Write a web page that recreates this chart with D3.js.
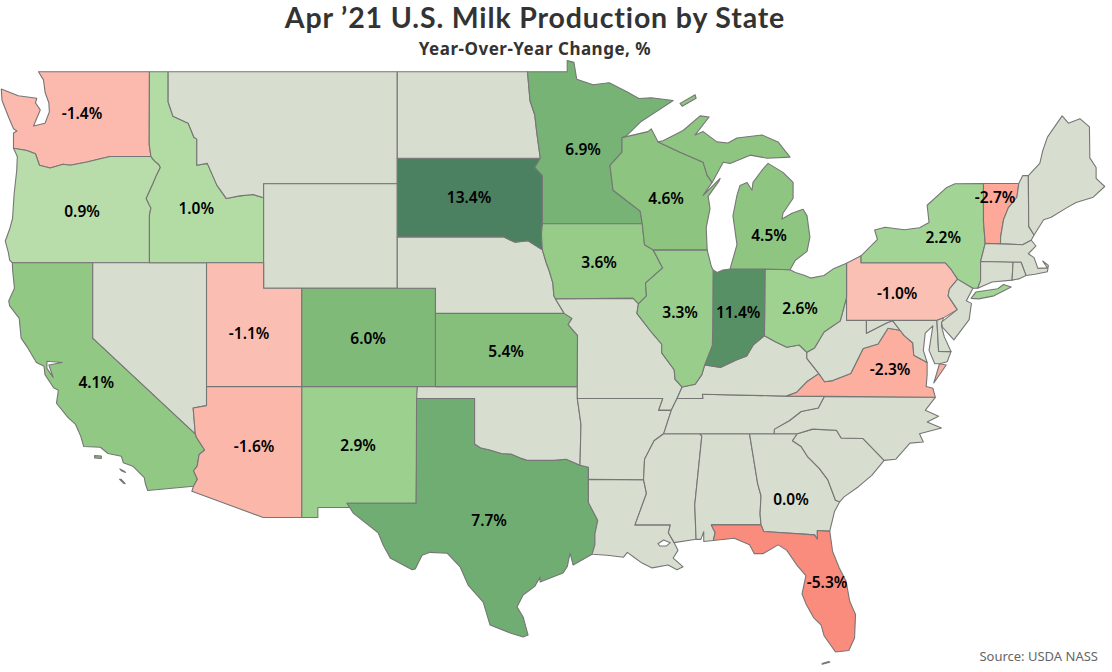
<!DOCTYPE html>
<html>
<head>
<meta charset="utf-8">
<script src="https://cdn.jsdelivr.net/npm/d3@7"></script>
<style>
  html, body { margin: 0; padding: 0; background: #fff; }
  svg { display: block; }
  text { font-family: "Noto Sans", sans-serif; }
</style>
</head>
<body>
<svg id="chart" width="1112" height="672"></svg>
<script>
// state outlines, [lon, lat] rings
const WA = [[[-122.84,49],[-117.03,49],[-117.04,46.42],[-116.95,46],[-119.09,46],[-119.6,45.92],[-120.3,45.8],[-121.18,45.68],[-121.55,45.72],[-122.23,45.58],[-122.79,45.68],[-123,46.1],[-123.45,46.22],[-124.15,46.3],[-124.15,46.85],[-123.97,46.92],[-124.15,47],[-124.4,47.4],[-124.75,48],[-124.79,48.4],[-123.9,48.17],[-122.93,48.08],[-123,47.92],[-122.75,47.67],[-123.1,47.1],[-122.5,47.2],[-122.27,47.6],[-122.3,47.92],[-122.49,48.27],[-122.58,48.72]]];
const OR = [[[-124.15,46.3],[-123.45,46.22],[-123,46.1],[-122.79,45.68],[-122.23,45.58],[-121.55,45.72],[-121.18,45.68],[-120.3,45.8],[-119.6,45.92],[-119.09,46],[-116.95,46],[-116.78,45.85],[-116.53,45.7],[-116.46,45.6],[-116.67,45.3],[-116.85,45],[-117.2,44.45],[-117.05,44.23],[-116.95,44.1],[-117.03,43.83],[-117.03,42],[-124.21,42],[-124.35,42.1],[-124.42,42.4],[-124.58,42.84],[-124.35,43.3],[-124.2,43.7],[-124.12,44.6],[-123.98,45.5],[-123.95,46]]];
const CA = [[[-124.21,42],[-120,42],[-120,39],[-114.63,35],[-114.57,34.85],[-114.14,34.3],[-114.43,34.1],[-114.53,33.6],[-114.72,33.4],[-114.52,33.03],[-114.72,32.72],[-117.12,32.53],[-117.25,32.85],[-117.3,33.1],[-117.9,33.6],[-118.4,33.75],[-118.5,34.03],[-119.2,34.15],[-119.6,34.42],[-120.47,34.45],[-120.63,34.9],[-120.9,35.4],[-121.3,35.7],[-121.9,36.3],[-121.8,36.85],[-122.05,36.95],[-122.5,37.5],[-122.55,37.85],[-122.95,38],[-123.4,38.6],[-123.75,39],[-123.85,39.8],[-124.35,40.3],[-124.4,40.5],[-124.1,41],[-124.2,41.75]],[[-122.4,38.05],[-121.6,38],[-122.3,37.9],[-122.07,37.38],[-122.4,37.76]],[[-119.9,34.06],[-119.55,34.04],[-119.55,33.94],[-119.9,33.96]],[[-118.58,33.48],[-118.35,33.38],[-118.28,33.32],[-118.5,33.4]],[[-118.6,33.03],[-118.38,32.85],[-118.3,32.83],[-118.52,33.03]]];
const NV = [[[-120,42],[-114.04,42],[-114.04,36.2],[-114.74,36.1],[-114.63,35],[-120,39]]];
const ID = [[[-117.03,49],[-116.05,49],[-116.05,47.95],[-115.8,47.45],[-115,47.2],[-114.7,46.7],[-114.55,46.63],[-114.55,45.68],[-114,45.75],[-113.5,44.95],[-113,44.45],[-112.3,44.55],[-111.6,44.6],[-111.05,44.48],[-111.05,42],[-117.03,42],[-117.03,43.83],[-116.95,44.1],[-117.05,44.23],[-117.2,44.45],[-116.85,45],[-116.67,45.3],[-116.46,45.6],[-116.53,45.7],[-116.78,45.85],[-116.95,46],[-117.04,46.42]]];
const MT = [[[-116.05,49],[-104.05,49],[-104.05,45],[-111.05,45],[-111.05,44.48],[-111.6,44.6],[-112.3,44.55],[-113,44.45],[-113.5,44.95],[-114,45.75],[-114.55,45.68],[-114.55,46.63],[-114.7,46.7],[-115,47.2],[-115.8,47.45],[-116.05,47.95]]];
const WY = [[[-111.05,45],[-104.05,45],[-104.05,41],[-111.05,41]]];
const UT = [[[-114.04,42],[-111.05,42],[-111.05,41],[-109.05,41],[-109.05,37],[-114.04,37]]];
const CO = [[[-109.05,41],[-102.05,41],[-102.05,37],[-109.05,37]]];
const AZ = [[[-114.04,37],[-109.05,37],[-109.05,31.33],[-111.07,31.33],[-114.81,32.5],[-114.72,32.72],[-114.52,33.03],[-114.72,33.4],[-114.53,33.6],[-114.43,34.1],[-114.14,34.3],[-114.57,34.85],[-114.63,35],[-114.74,36.1],[-114.04,36.2]]];
const NM = [[[-109.05,37],[-103,37],[-103.06,31.97],[-106.68,31.97],[-106.53,31.78],[-108.21,31.78],[-108.21,31.33],[-109.05,31.33]]];
const TX = [[[-103.04,36.5],[-100,36.5],[-100,34.56],[-99.7,34.4],[-99.2,34.3],[-98.6,34.15],[-98.1,34.13],[-97.6,33.95],[-97.2,33.85],[-96.6,33.85],[-95.9,33.85],[-95.2,33.9],[-94.48,33.64],[-94.04,33.55],[-94.04,33.02],[-94.04,32],[-93.55,31.2],[-93.7,30.6],[-93.7,30.1],[-93.85,29.67],[-94.84,29.18],[-95,29.72],[-95.15,29.1],[-95.37,28.82],[-96.57,28.4],[-96.57,28.63],[-96.85,28.2],[-97.46,27.8],[-97.78,27.25],[-97.46,26.78],[-97.2,25.93],[-97.46,25.84],[-98.14,26.03],[-99.19,26.4],[-99.55,27.47],[-100.34,28.26],[-100.76,29.1],[-101.44,29.72],[-102.33,29.76],[-102.75,29.63],[-103.11,29],[-103.27,28.97],[-104.42,29.5],[-104.79,30.09],[-105.05,30.64],[-106.36,31.53],[-106.68,31.97],[-103.06,31.97]]];
const OK = [[[-103,37],[-94.62,37],[-94.62,36.5],[-94.43,35.4],[-94.48,33.64],[-95.2,33.9],[-95.9,33.85],[-96.6,33.85],[-97.2,33.85],[-97.6,33.95],[-98.1,34.13],[-98.6,34.15],[-99.2,34.3],[-99.7,34.4],[-100,34.56],[-100,36.5],[-103.04,36.5]]];
const KS = [[[-102.05,40],[-95.31,40],[-94.9,39.8],[-95.1,39.55],[-94.61,39.11],[-94.62,37],[-102.05,37]]];
const NE = [[[-104.05,43],[-98.5,43],[-97.9,42.8],[-97.2,42.85],[-96.45,42.5],[-96.25,42],[-96.1,41.7],[-95.9,41.2],[-95.85,40.7],[-95.31,40],[-102.05,40],[-102.05,41],[-104.05,41]]];
const SD = [[[-104.05,45.94],[-96.56,45.94],[-96.85,45.6],[-96.45,45.3],[-96.45,43.5],[-96.5,43.1],[-96.45,42.5],[-97.2,42.85],[-97.9,42.8],[-98.5,43],[-104.05,43]]];
const ND = [[[-104.05,49],[-97.23,49],[-97.1,48],[-96.85,47.5],[-96.75,46.9],[-96.56,45.94],[-104.05,45.94]]];
const MN = [[[-97.23,49],[-95.15,49],[-95.15,49.38],[-94.8,49.32],[-94.65,48.74],[-93.8,48.55],[-92.95,48.62],[-92,48.3],[-91.4,48.07],[-90.75,48.1],[-89.6,48],[-90.5,47.6],[-91.3,47.25],[-92.05,46.75],[-92.28,46.68],[-92.28,46.16],[-92.91,45.68],[-92.75,44.76],[-91.33,43.98],[-91.22,43.5],[-96.45,43.5],[-96.45,45.3],[-96.85,45.6],[-96.56,45.94],[-96.75,46.9],[-96.85,47.5],[-97.1,48]]];
const IA = [[[-96.45,43.5],[-91.22,43.5],[-91.1,42.7],[-90.65,42.5],[-90.15,41.8],[-91.05,41.2],[-91,40.7],[-91.42,40.38],[-91.7,40.6],[-95.77,40.58],[-95.85,40.7],[-95.9,41.2],[-96.1,41.7],[-96.25,42],[-96.45,42.5],[-96.5,43.1]]];
const MO = [[[-95.77,40.58],[-91.7,40.6],[-91.42,40.38],[-91.5,40],[-90.75,39.25],[-90.2,38.75],[-90.2,38.4],[-89.55,37.7],[-89.5,37.3],[-89.13,36.98],[-89.4,36.5],[-89.7,36],[-90.37,36],[-90.15,36.5],[-94.62,36.5],[-94.62,37],[-94.61,39.11],[-95.1,39.55],[-94.9,39.8],[-95.31,40]]];
const AR = [[[-94.62,36.5],[-90.15,36.5],[-90.37,36],[-89.7,36],[-90.1,35],[-90.6,34.7],[-91.1,33.9],[-91.15,33],[-94.04,33.02],[-94.04,33.55],[-94.48,33.64],[-94.43,35.4]]];
const LA = [[[-94.04,33.02],[-91.15,33],[-91,32.4],[-91.6,31],[-89.75,31],[-89.85,30.65],[-89.55,30.2],[-89.35,29.85],[-89.6,29.5],[-89.08,29.1],[-89.4,28.97],[-89.87,29.18],[-90.7,29.05],[-91.23,29.27],[-91.6,29.5],[-92,29.76],[-92.2,29.54],[-93.05,29.63],[-93.85,29.67],[-93.7,30.1],[-93.7,30.6],[-93.55,31.2],[-94.04,32]],[[-90.4,30.15],[-90.1,30.32],[-89.75,30.2],[-89.95,30.05],[-90.3,30.05]]];
const MS = [[[-90.1,35],[-88.2,35],[-88.1,34.9],[-88.47,31.9],[-88.4,30.35],[-89.55,30.2],[-89.85,30.65],[-89.75,31],[-91.6,31],[-91,32.4],[-91.15,33],[-91.1,33.9],[-90.6,34.7]]];
const AL = [[[-88.2,35],[-85.6,35],[-85.18,32.85],[-85,32.3],[-85.05,31.5],[-85,31],[-87.6,31],[-87.4,30.65],[-87.5,30.3],[-88,30.25],[-88,30.7],[-88.15,30.35],[-88.4,30.35],[-88.47,31.9],[-88.1,34.9]]];
const GA = [[[-85.6,35],[-83.1,35],[-83.35,34.7],[-82.9,34.45],[-82.55,34],[-81.95,33.5],[-81.5,33],[-81.1,32.1],[-80.88,32.03],[-81.15,31.6],[-81.4,30.72],[-81.55,30.72],[-82.05,30.75],[-82.05,30.36],[-82.2,30.55],[-84.86,30.7],[-85,31],[-85.05,31.5],[-85,32.3],[-85.18,32.85]]];
const FL = [[[-87.6,31],[-85,31],[-84.86,30.7],[-82.2,30.55],[-82.05,30.36],[-82.05,30.75],[-81.55,30.72],[-81.4,30.72],[-81.25,29.8],[-80.9,29.05],[-80.55,28.45],[-80.35,27.5],[-80.05,26.9],[-80.1,25.8],[-80.4,25.2],[-81.1,25.13],[-81.7,25.9],[-81.85,26.4],[-82.25,26.75],[-82.65,27.4],[-82.85,27.85],[-82.65,28.7],[-83.1,29.15],[-83.65,29.85],[-84.1,30.1],[-84.9,29.7],[-85.35,29.7],[-85.6,30.1],[-86.4,30.4],[-87.5,30.3],[-87.4,30.65]],[[-81.8,24.55],[-81.4,24.65],[-81.45,24.68],[-81.8,24.58]]];
const SC = [[[-83.1,35],[-82.3,35.2],[-81.05,35.15],[-80.8,34.82],[-79.67,34.8],[-78.55,33.85],[-79.2,33.2],[-79.9,32.7],[-80.65,32.25],[-80.88,32.03],[-81.1,32.1],[-81.5,33],[-81.95,33.5],[-82.55,34],[-82.9,34.45],[-83.35,34.7]]];
const NC = [[[-84.32,35],[-83.1,35],[-82.3,35.2],[-81.05,35.15],[-80.8,34.82],[-79.67,34.8],[-78.55,33.85],[-77.95,33.9],[-77.2,34.6],[-76.5,34.65],[-76.7,35],[-75.55,35.25],[-76.3,35.5],[-75.7,35.75],[-76.4,36],[-75.87,36.55],[-81.68,36.59],[-82,36.1],[-82.9,35.95],[-83.5,35.57],[-84.3,35.2]]];
const TN = [[[-90.1,35],[-89.7,36],[-89.4,36.5],[-88.05,36.5],[-88.07,36.68],[-83.67,36.6],[-81.68,36.59],[-82,36.1],[-82.9,35.95],[-83.5,35.57],[-84.3,35.2],[-84.32,35]]];
const KY = [[[-89.4,36.5],[-88.05,36.5],[-88.07,36.68],[-83.67,36.6],[-83.15,36.75],[-82.6,37.2],[-81.97,37.54],[-82.6,38.17],[-82.6,38.42],[-83,38.72],[-83.65,38.63],[-84.25,38.85],[-84.82,39.1],[-85.4,38.73],[-85.75,38.27],[-86.3,38.1],[-87.1,37.8],[-87.95,37.9],[-88.1,37.5],[-88.45,37.1],[-89.13,36.98]]];
const VA = [[[-83.67,36.6],[-81.68,36.59],[-75.87,36.55],[-76,36.93],[-76.35,37],[-76.3,37.5],[-76.3,38],[-77,38.3],[-77.05,38.8],[-77.5,39.1],[-77.72,39.32],[-78.35,39.4],[-78.87,38.76],[-79.65,38.58],[-80.3,37.55],[-81.25,37.25],[-81.67,37.2],[-81.97,37.54],[-82.6,37.2],[-83.15,36.75]],[[-75.95,37.15],[-75.3,37.9],[-75.65,37.95],[-75.95,37.15]]];
const WV = [[[-82.6,38.42],[-82.6,38.17],[-81.97,37.54],[-81.67,37.2],[-81.25,37.25],[-80.3,37.55],[-79.65,38.58],[-78.87,38.76],[-78.35,39.4],[-77.72,39.32],[-78.1,39.7],[-78.4,39.62],[-79.48,39.2],[-79.48,39.72],[-80.52,39.72],[-80.52,40.64],[-80.85,39.7],[-81.7,39.25],[-82.2,38.6]]];
const MD = [[[-79.48,39.72],[-75.79,39.72],[-75.7,38.46],[-75.05,38.45],[-75.25,38.03],[-75.65,37.95],[-75.9,37.95],[-76.2,38.5],[-76,39.5],[-76.4,39.2],[-76.5,38.5],[-76.3,38],[-77,38.3],[-77.05,38.8],[-77.5,39.1],[-77.72,39.32],[-78.1,39.7],[-78.4,39.62],[-79.48,39.2]]];
const DE = [[[-75.79,39.72],[-75.45,39.82],[-75.55,39.5],[-75.4,39.05],[-75.05,38.45],[-75.7,38.46]]];
const PA = [[[-80.52,41.98],[-79.76,42.27],[-79.76,42],[-75.35,42],[-75.05,41.75],[-74.7,41.36],[-75.13,40.98],[-75.2,40.7],[-74.72,40.15],[-75.45,39.82],[-75.79,39.72],[-80.52,39.72]]];
const NJ = [[[-74.7,41.36],[-73.9,41],[-74.25,40.5],[-73.98,40.4],[-74.1,39.75],[-74.9,38.93],[-75.5,39.45],[-75.55,39.65],[-74.72,40.15],[-75.2,40.7],[-75.13,40.98]]];
const NY = [[[-79.76,42.27],[-79.76,42],[-75.35,42],[-75.05,41.75],[-74.7,41.36],[-73.9,41],[-73.65,41],[-73.5,41.3],[-73.5,42.05],[-73.26,42.75],[-73.35,43.6],[-73.35,45.01],[-74.84,45],[-75.3,44.85],[-76.3,44.2],[-76.2,43.55],[-76.7,43.35],[-77.5,43.27],[-78.5,43.37],[-79.05,43.26],[-78.9,42.9]],[[-74,40.6],[-73.75,40.85],[-72.6,40.98],[-72.3,41.15],[-71.9,41.05],[-72.8,40.7],[-73.6,40.58]]];
const VT = [[[-73.35,45.01],[-71.5,45.01],[-71.6,44.5],[-72.05,44.1],[-72.3,43.65],[-72.45,43],[-72.46,42.73],[-73.26,42.75],[-73.35,43.6]]];
const NH = [[[-71.5,45.01],[-71.3,45.3],[-71,45.3],[-70.98,43.4],[-70.7,43.07],[-70.85,42.87],[-71.3,42.7],[-72.46,42.73],[-72.45,43],[-72.3,43.65],[-72.05,44.1],[-71.6,44.5]]];
const ME = [[[-71,45.3],[-70.4,45.75],[-70.25,46.2],[-70,46.7],[-69.23,47.46],[-68.9,47.2],[-68.3,47.36],[-67.8,47.07],[-67.78,45.95],[-67.45,45.6],[-67.45,45.2],[-67,44.9],[-67.6,44.5],[-68.5,44.3],[-69,44.1],[-69.8,43.75],[-70.2,43.65],[-70.7,43.07],[-70.98,43.4]]];
const MA = [[[-73.5,42.05],[-71.8,42.02],[-71.38,42.02],[-71.12,41.5],[-70.65,41.55],[-70,41.65],[-69.95,41.9],[-70.25,42.07],[-70,41.8],[-70.5,41.78],[-70.7,42.2],[-71,42.35],[-70.6,42.65],[-70.85,42.87],[-71.3,42.7],[-72.46,42.73],[-73.26,42.75]]];
const CT = [[[-73.5,42.05],[-71.8,42.02],[-71.85,41.32],[-72.9,41.25],[-73.65,41],[-73.5,41.3]]];
const RI = [[[-71.8,42.02],[-71.38,42.02],[-71.12,41.5],[-71.5,41.37],[-71.85,41.32]]];
const OH = [[[-84.79,41.76],[-83.48,41.73],[-83.2,41.62],[-82.7,41.5],[-82.4,41.4],[-81.7,41.5],[-81.2,41.77],[-80.52,41.98],[-80.52,40.64],[-80.85,39.7],[-81.7,39.25],[-82.2,38.6],[-82.6,38.42],[-83,38.72],[-83.65,38.63],[-84.25,38.85],[-84.82,39.1]]];
const IN = [[[-87.51,41.72],[-87.3,41.62],[-87,41.72],[-86.62,41.76],[-84.79,41.76],[-84.82,39.1],[-85.4,38.73],[-85.75,38.27],[-86.3,38.1],[-87.1,37.8],[-87.95,37.9],[-87.55,38.7],[-87.53,39.35]]];
const IL = [[[-90.65,42.5],[-87.82,42.5],[-87.6,41.85],[-87.51,41.72],[-87.53,39.35],[-87.55,38.7],[-87.95,37.9],[-88.1,37.5],[-88.45,37.1],[-89.13,36.98],[-89.5,37.3],[-89.55,37.7],[-90.2,38.4],[-90.2,38.75],[-90.75,39.25],[-91.5,40],[-91.42,40.38],[-91,40.7],[-91.05,41.2],[-90.15,41.8]]];
const WI = [[[-92.28,46.68],[-92.05,46.72],[-90.92,46.9],[-90.75,47],[-90.39,46.53],[-89.24,46.16],[-88.03,45.79],[-87.82,45.31],[-87.56,45.05],[-88.03,44.57],[-87.14,45.2],[-87.2,45.1],[-87.77,44.53],[-87.67,44.07],[-87.87,43.35],[-87.82,42.5],[-90.65,42.5],[-91.1,42.7],[-91.22,43.5],[-91.33,43.98],[-92.75,44.76],[-92.91,45.68],[-92.28,46.16]]];
const MI = [[[-86.62,41.76],[-84.79,41.76],[-83.48,41.73],[-83.2,42.1],[-82.59,42.44],[-82.44,42.99],[-82.59,43.8],[-82.8,44.05],[-83.38,43.9],[-83.9,43.68],[-83.85,43.9],[-83.32,44.46],[-83.32,45.05],[-83.85,45.42],[-84.63,45.75],[-84.95,45.5],[-85.42,45.05],[-85.47,44.76],[-85.73,45.05],[-86.1,44.94],[-86.26,44.57],[-86.47,43.8],[-86.26,42.7]],[[-90.39,46.53],[-89.24,46.16],[-88.03,45.79],[-87.82,45.31],[-87.56,45.05],[-86.98,45.79],[-86.62,45.75],[-85.57,46.05],[-84.68,45.94],[-83.48,45.98],[-84.11,46.53],[-84.95,46.78],[-86.26,46.67],[-86.73,46.49],[-87.31,46.53],[-88.03,46.9],[-88.45,46.78],[-87.72,47.42],[-88.19,47.46],[-89.08,46.94],[-90.13,46.57]],[[-89.24,47.9],[-88.45,48.2],[-88.4,48.08],[-89.13,47.8]]];

const stateCodes = ["WA","OR","CA","NV","ID","MT","WY","UT","CO","AZ","NM","TX","OK","KS","NE","SD","ND","MN","IA","MO","AR","LA","MS","AL","GA","FL","SC","NC","TN","KY","VA","WV","MD","DE","PA","NJ","NY","VT","NH","ME","MA","CT","RI","OH","IN","IL","WI","MI"];
const stateShapes = [WA,OR,CA,NV,ID,MT,WY,UT,CO,AZ,NM,TX,OK,KS,NE,SD,ND,MN,IA,MO,AR,LA,MS,AL,GA,FL,SC,NC,TN,KY,VA,WV,MD,DE,PA,NJ,NY,VT,NH,ME,MA,CT,RI,OH,IN,IL,WI,MI];

// year-over-year change, only the states that report
const reportingStates = ["WA","OR","ID","CA","UT","AZ","NM","CO","KS","TX","SD","MN","IA","WI","IL","IN","MI","OH","NY","VT","PA","VA","GA","FL"];
const changeValues = [-1.4,0.9,1.0,4.1,-1.1,-1.6,2.9,6.0,5.4,7.7,13.4,6.9,3.6,4.6,3.3,11.4,4.5,2.6,2.2,-2.7,-1.0,-2.3,0.0,-5.3];
const labelLons = [-120.56,-120.56,-114.58,-119.82,-111.81,-111.55,-106.10,-105.58,-98.35,-99.24,-100.29,-94.32,-93.48,-89.97,-89.24,-86.2,-84.58,-82.95,-75.46,-72.74,-77.87,-78.24,-83.43,-81.54];
const labelLats = [47.54,43.98,44.08,37.18,39.2,34.44,34.48,38.98,38.44,31.18,44.5,46.27,42.0,44.47,40.02,40.02,43.07,40.2,42.96,44.5,40.8,37.72,32.12,28.36];

const colorStops = [-5.3,-2.7,-1,0,0.9,1,2.2,4.6,7.7,13.4];
const colorRange = ["#f98c7c","#fda898","#fac0b4","#d8decf","#b9dcab","#b3dca4","#a2d595","#8dc47f","#70ad72","#4b8060"];

const svg = d3.select("#chart");
const color = d3.scaleLinear().domain(colorStops).range(colorRange);
const projection = d3.geoMercator().scale(1094).translate([2384, 1148]);

// straight segments on the page, so the 49th parallel stays flat
const ringPath = d3.line().x(function(d) { return projection(d)[0]; }).y(function(d) { return projection(d)[1]; });

const states = stateCodes.map(function(code, i) {
    const k = reportingStates.indexOf(code);
    return {code: code, rings: stateShapes[i], value: k < 0 ? 0 : changeValues[k]};
});

svg.append("g").selectAll("path")
    .data(states)
    .enter().append("path")
    .attr("d", function(d) { return d.rings.map(function(r) { return ringPath(r) + "Z"; }).join(""); })
    .attr("fill", function(d) { return color(d.value); })
    .attr("fill-rule", "evenodd")
    .attr("stroke", "#767676")
    .attr("stroke-width", 1.1)
    .attr("stroke-linejoin", "round");

svg.append("g").selectAll("text")
    .data(reportingStates)
    .enter().append("text")
    .attr("x", function(d, i) { return projection([labelLons[i], labelLats[i]])[0]; })
    .attr("y", function(d, i) { return projection([labelLons[i], labelLats[i]])[1] + 5.5; })
    .attr("text-anchor", "middle")
    .attr("font-size", 15.5)
    .attr("font-weight", 600)
    .attr("fill", "#000")
    .text(function(d, i) { return changeValues[i].toFixed(1) + "%"; });

svg.append("text")
    .attr("x", 535).attr("y", 28)
    .attr("text-anchor", "middle")
    .style("font-family", "Lato, sans-serif")
    .style("letter-spacing", "0.85px")
    .attr("font-size", 28.5)
    .attr("font-weight", 700)
    .attr("fill", "#333")
    .text("Apr ’21 U.S. Milk Production by State");

svg.append("text")
    .attr("x", 535).attr("y", 55)
    .attr("text-anchor", "middle")
    .style("letter-spacing", "0.5px")
    .attr("font-size", 17)
    .attr("font-weight", 700)
    .attr("fill", "#333")
    .text("Year-Over-Year Change, %");

svg.append("text")
    .attr("x", 1098).attr("y", 661)
    .attr("text-anchor", "end")
    .attr("font-size", 13)
    .attr("fill", "#666")
    .text("Source: USDA NASS");
</script>
</body>
</html>
